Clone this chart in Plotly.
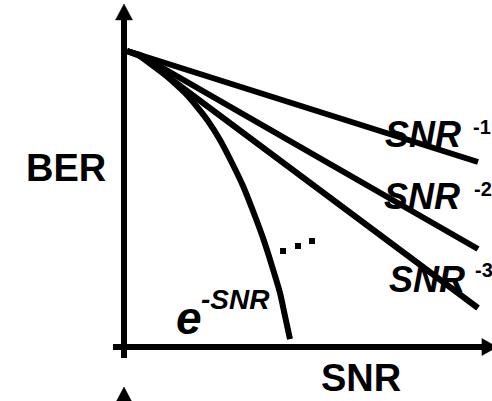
import plotly.graph_objects as go

# ---------------- data (arbitrary SNR / BER units) ----------------
# power-law curves SNR^-1, SNR^-2, SNR^-3 (straight lines on the log-log sketch)
pow_snr = [0.085, 0.452, 10.0]
ber_snr_m1 = [10.0, 9.865, 6.25]
ber_snr_m2 = [10.0, 9.865, 3.311]
ber_snr_m3 = [10.0, 9.831, 1.318]

# exponential curve e^-SNR
exp_snr = [0.085, 0.452, 0.876, 1.299, 1.723, 2.090, 2.373, 2.712, 3.051,
           3.362, 3.644, 3.927, 4.181, 4.407, 4.548, 4.689]
exp_ber = [10.0, 9.831, 9.493, 9.054, 8.581, 8.074, 7.635, 6.993, 6.216,
           5.439, 4.595, 3.682, 2.736, 1.824, 1.047, 0.270]

# "..." between the families
dots_snr = [4.492, 4.915, 5.311]
dots_ber = [3.243, 3.412, 3.581]

# ---------------- frame ----------------
X_RANGE = [-3.503, 10.395]
Y_RANGE = [-1.824, 11.723]
PX_X = 492 / (X_RANGE[1] - X_RANGE[0])   # px per x unit
PX_Y = 401 / (Y_RANGE[1] - Y_RANGE[0])   # px per y unit

BLACK = "#000000"
FONT = "Liberation Sans, Arial, sans-serif"

fig = go.Figure()

LW = 6
for ys in (ber_snr_m1, ber_snr_m2, ber_snr_m3):
    fig.add_trace(go.Scatter(x=pow_snr, y=ys, mode="lines",
                             line=dict(color=BLACK, width=LW), hoverinfo="skip"))
fig.add_trace(go.Scatter(x=exp_snr, y=exp_ber, mode="lines",
                         line=dict(color=BLACK, width=LW, shape="spline", smoothing=0.6),
                         hoverinfo="skip"))
fig.add_trace(go.Scatter(x=dots_snr, y=dots_ber, mode="markers",
                         marker=dict(symbol="square", size=6, color=BLACK, line=dict(width=0)),
                         hoverinfo="skip"))

# ---------------- axes drawn as arrows ----------------
AW = 6
y_axis_bottom = -11 / PX_Y
y_arrow_base = 11.05
y_arrow_tip = 11.59
x_axis_left = -11 / PX_X
x_arrow_base = 10.11
x_arrow_tip = 10.54
head_half_x = 8.5 / PX_X
head_half_y = 8.5 / PX_Y

fig.add_trace(go.Scatter(x=[0, 0], y=[y_axis_bottom, y_arrow_base + 0.05], mode="lines",
                         line=dict(color=BLACK, width=AW), hoverinfo="skip"))
fig.add_trace(go.Scatter(x=[x_axis_left, x_arrow_base + 0.05], y=[0, 0], mode="lines",
                         line=dict(color=BLACK, width=AW), hoverinfo="skip"))
# up arrowhead
fig.add_trace(go.Scatter(x=[-head_half_x, head_half_x, 0, -head_half_x],
                         y=[y_arrow_base, y_arrow_base, y_arrow_tip, y_arrow_base],
                         mode="lines", fill="toself", fillcolor=BLACK,
                         line=dict(color=BLACK, width=0.5), hoverinfo="skip"))
# right arrowhead
fig.add_trace(go.Scatter(x=[x_arrow_base, x_arrow_base, x_arrow_tip, x_arrow_base],
                         y=[-head_half_y, head_half_y, 0, -head_half_y],
                         mode="lines", fill="toself", fillcolor=BLACK,
                         line=dict(color=BLACK, width=0.5), hoverinfo="skip"))
# partially visible arrowhead of the next panel below
lower_tip = -40 / PX_Y
lower_base = -56 / PX_Y
fig.add_trace(go.Scatter(x=[-head_half_x, head_half_x, 0, -head_half_x],
                         y=[lower_base, lower_base, lower_tip, lower_base],
                         mode="lines", fill="toself", fillcolor=BLACK,
                         line=dict(color=BLACK, width=0.5), hoverinfo="skip"))

# ---------------- labels ----------------
def label(x, y, text, size, italic=False):
    fig.add_annotation(x=x, y=y, text=text, showarrow=False, xanchor="center",
                       yanchor="middle",
                       font=dict(family=FONT, size=size, color=BLACK,
                                 weight="bold", style="italic" if italic else "normal"))

label(-1.638, 6.047, "BER", 38)
label(6.695, -1.047, "SNR", 38)

label(8.446, 7.196, "SNR", 36, italic=True)
label(10.11, 7.43, "-1", 20)
label(8.418, 5.101, "SNR", 36, italic=True)
label(10.14, 5.34, "-2", 20)
label(8.559, 2.264, "SNR", 36, italic=True)
label(10.17, 2.60, "-3", 20)

label(1.836, 0.98, "e", 46, italic=True)
label(3.136, 1.62, "-SNR", 28, italic=True)

fig.update_layout(
    width=492, height=401,
    margin=dict(l=0, r=0, t=0, b=0, pad=0),
    paper_bgcolor="white", plot_bgcolor="white",
    showlegend=False,
    xaxis=dict(range=X_RANGE, visible=False, fixedrange=True),
    yaxis=dict(range=Y_RANGE, visible=False, fixedrange=True),
)

fig.write_html("out.html", config={"displayModeBar": False},
               post_script="document.body.style.margin='0';document.body.style.overflow='hidden';")
